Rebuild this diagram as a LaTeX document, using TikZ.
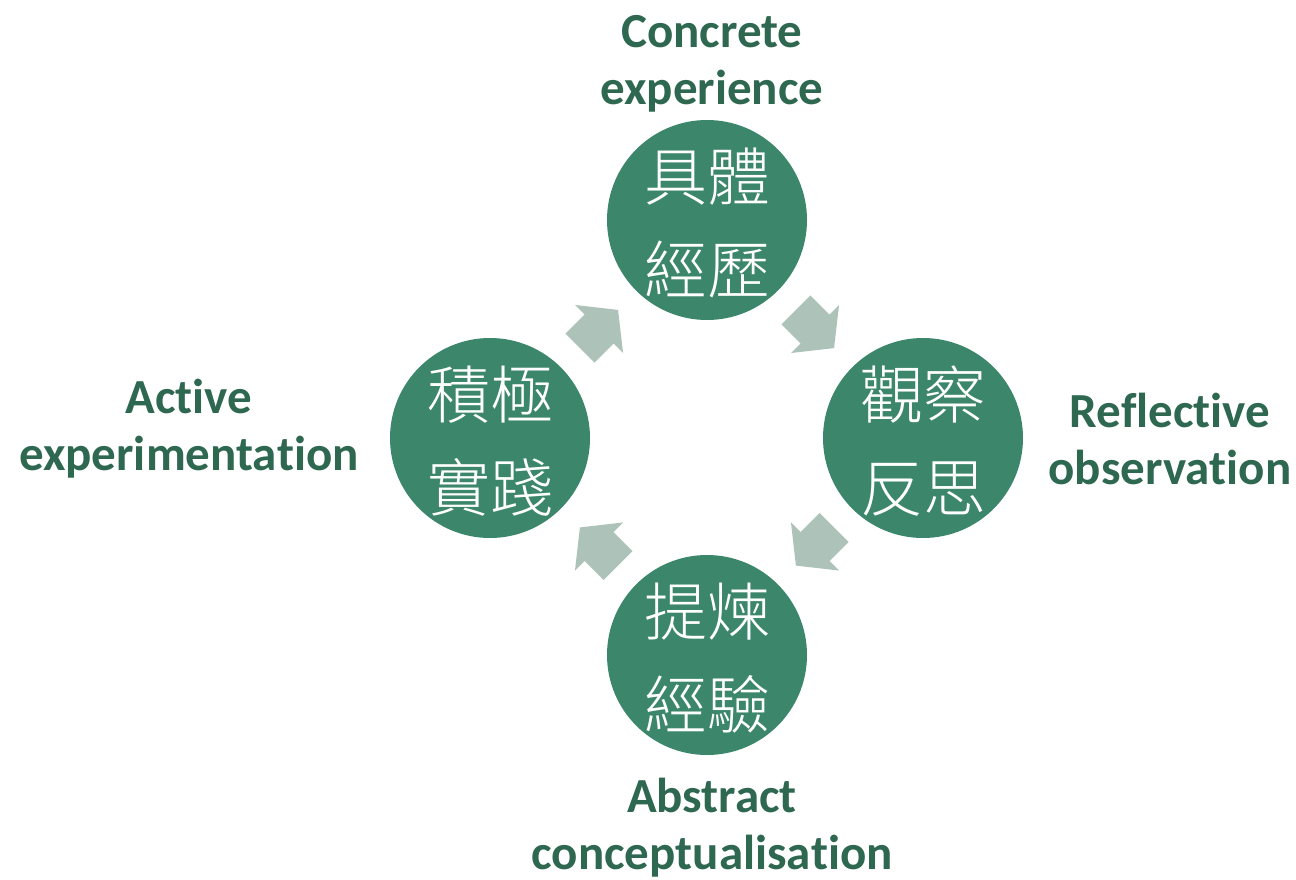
\documentclass[tikz,border=0pt]{standalone}
\usepackage{fontspec}
\setmainfont{Carlito}[Ligatures={NoCommon,NoContextual,NoRare},RawFeature={-liga,-clig,-dlig}]
\newfontfamily\cjkfont{Noto Sans CJK TC Light}
\newcommand{\nolig}{\kern0pt}
\definecolor{circgreen}{HTML}{3C876C}
\definecolor{labgreen}{HTML}{2E6850}
\definecolor{arrgray}{HTML}{ADC3B9}
\begin{document}
\begin{tikzpicture}[x=1pt,y=-1pt,
  stage/.style={circle,fill=circgreen,minimum size=200pt,inner sep=0pt},
  stagetext/.style={text=white,align=center,font=\cjkfont\fontsize{63}{93}\selectfont,inner sep=0pt},
  lab/.style={text=labgreen,align=center,font=\bfseries\fontsize{49}{57}\selectfont,inner sep=0pt},
  blockarrow/.style={fill=arrgray,draw=none}]
\useasboundingbox (0,0) rectangle (1296,880);
\node[stage] (top) at (707,220) {};
\node[stage] (right) at (923,438) {};
\node[stage] (bottom) at (707,655) {};
\node[stage] (left) at (490,438) {};
\node[stagetext] (ttop) at (707,223) {具體\\經歷};
\node[stagetext] (tright) at (923,441) {觀察\\反思};
\node[stagetext] (tbottom) at (707,658) {提煉\\經驗};
\node[stagetext] (tleft) at (490,441) {積極\\實踐};
\node[lab] (ltop) at (712,64) {Concrete\\experience};
\node[lab] (lright) at (1170,439) {Ref\nolig lec\nolig t\nolig ive\\observa\nolig t\nolig ion};
\node[lab] (lbottom) at (712,828) {Abstract\\concep\nolig tualisa\nolig t\nolig ion};
\node[lab] (lleft) at (189,429) {Ac\nolig t\nolig ive\\experimenta\nolig t\nolig ion};
\foreach \cx/\cy/\ang in {599/329/45, 815/329/-45, 815/546.5/-135, 599/546.5/135}{
  \fill[blockarrow,shift={(\cx,\cy)},rotate=\ang]
    (-27,-20.5) -- (0,-20.5) -- (0,-34) -- (27,0) -- (0,34) -- (0,20.5) -- (-27,20.5) -- cycle;
}
\end{tikzpicture}
\end{document}
